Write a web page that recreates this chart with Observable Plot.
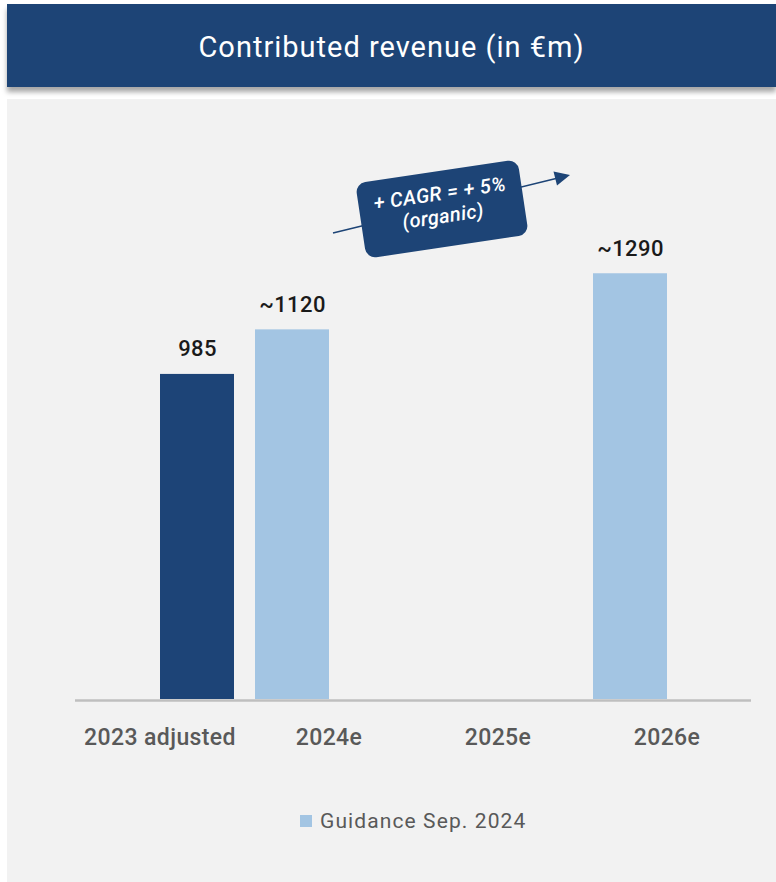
<!DOCTYPE html>
<html>
<head>
<meta charset="utf-8">
<script src="https://cdn.jsdelivr.net/npm/d3@7"></script>
<script src="https://cdn.jsdelivr.net/npm/@observablehq/plot@0.6"></script>
<style>
  html, body { margin: 0; padding: 0; background: #ffffff; }
  body { width: 776px; height: 882px; position: relative; overflow: hidden; font-family: Roboto, "DejaVu Sans", sans-serif; }
  #banner {
    position: absolute; left: 7px; top: 4px; width: 769px; height: 83px;
    background: #1d4476; color: #ffffff;
    box-shadow: 0 5px 5px rgba(0,0,0,0.35);
    display: flex; align-items: center; justify-content: center;
    font-size: 29px; font-weight: 400; letter-spacing: 1px;
    padding-top: 2px; box-sizing: border-box;
  }
  #panel { position: absolute; left: 7px; top: 99px; width: 769px; height: 783px; background: #f2f2f2; }
  #chart { position: absolute; left: 0; top: 0; }
  #legend {
    position: absolute; left: 293px; top: 710px; display: flex; align-items: center;
    font-size: 21px; color: #595959; letter-spacing: 1.1px;
  }
  #legend .swatch { width: 12px; height: 12px; background: #a3c5e3; margin-right: 8px; }
  #note { position: absolute; left: 0; top: 0; pointer-events: none; }
</style>
</head>
<body>
<div id="banner">Contributed revenue (in €m)</div>
<div id="panel">
  <div id="chart"></div>
  <div id="legend"><div class="swatch"></div><span>Guidance Sep. 2024</span></div>
</div>
<svg id="note" width="776" height="882"></svg>
<script>
// Years on the axis, and the two bar series inside each year
const categories = ["2023 adjusted", "2024e", "2025e", "2026e"];
const seriesNames = ["Guidance Sep. 2024", "Adjusted"];
// Contributed revenue, €m (null = no bar)
const guidanceValues = [null, 1120, null, 1290];
const adjustedValues = [985, null, null, null];
const seriesColors = ["#a3c5e3", "#1d4477"];

// Flatten into one row per bar
const rows = [];
categories.forEach((c, i) => {
  if (guidanceValues[i] != null) rows.push({category: c, series: seriesNames[0], value: guidanceValues[i], label: "~" + guidanceValues[i]});
  if (adjustedValues[i] != null) rows.push({category: c, series: seriesNames[1], value: adjustedValues[i], label: String(adjustedValues[i])});
});

const chart = Plot.plot({
  width: 769,
  height: 660,
  marginLeft: 68,
  marginRight: 25,
  marginTop: 0,
  marginBottom: 60,
  style: {background: "transparent", fontFamily: "Roboto, sans-serif", fontSize: "23px", fontWeight: 500, letterSpacing: "0.4px", color: "#595959", overflow: "visible"},
  fx: {domain: categories, padding: 0, axis: "bottom", label: null, tickSize: 0, tickPadding: 29},
  x: {domain: seriesNames, paddingInner: 0, paddingOuter: 0.14, axis: null},
  y: {domain: [0, 1818], axis: null},
  color: {domain: seriesNames, range: seriesColors},
  marks: [
    // baseline drawn in every year, including years without bars
    Plot.ruleY(categories, {fx: d => d, y: () => 0, stroke: "#bfbfbf", strokeWidth: 2.5, dy: 1}),
    Plot.barY(rows, {fx: "category", x: "series", y: "value", fill: "series"}),
    Plot.text(rows, {fx: "category", x: "series", y: "value", text: "label", lineAnchor: "bottom", dy: -18,
      fontSize: 22, fontWeight: 500, letterSpacing: "0px", fill: "#1a1a1a"})
  ]
});
document.getElementById("chart").appendChild(chart);

// CAGR annotation: arrow with a tilted label box
const note = d3.select("#note");
note.append("line")
  .attr("x1", 333).attr("y1", 233).attr("x2", 556).attr("y2", 178.5)
  .attr("stroke", "#1d4476").attr("stroke-width", 1.6);
note.append("path")
  .attr("d", "M570,175 L553.5,171.5 L557,185.5 Z").attr("fill", "#1d4476");
const box = note.append("g").attr("transform", "translate(442,209) rotate(-8.5)");
box.append("rect").attr("x", -82).attr("y", -38).attr("width", 164).attr("height", 76).attr("rx", 10)
  .attr("fill", "#1d4476");
const lines = ["+ CAGR = + 5%", "(organic)"];
box.selectAll("text").data(lines).join("text")
  .attr("x", 0).attr("y", (d, i) => -9 + i * 23)
  .attr("text-anchor", "middle")
  .attr("fill", "#ffffff").attr("font-style", "italic").attr("font-weight", 500)
  .attr("font-size", 20).attr("letter-spacing", "0.4px").attr("font-family", "Roboto, sans-serif")
  .text(d => d);
</script>
</body>
</html>
